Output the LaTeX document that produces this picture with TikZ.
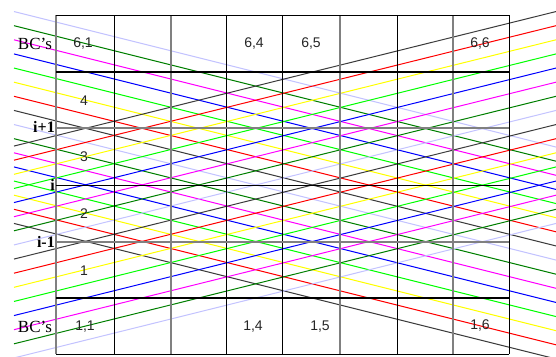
\documentclass[tikz,border=0pt]{standalone}
\usepackage{fontspec}
\setmainfont{Liberation Serif}
\newfontfamily\labsans{Liberation Sans}
\definecolor{lav}{RGB}{195,195,255}
\definecolor{dkg}{RGB}{0,128,0}
\definecolor{mag}{RGB}{255,0,255}
\definecolor{blu}{RGB}{0,0,255}
\definecolor{lim}{RGB}{0,255,0}
\definecolor{yel}{RGB}{255,255,0}
\definecolor{rd}{RGB}{255,0,0}
\definecolor{blk}{RGB}{60,60,60}
\definecolor{gridgray}{RGB}{128,128,128}
\tikzset{
  diag/.style={line width=1pt},
  thinblack/.style={draw=black, line width=1pt},
  thickblack/.style={draw=black, line width=2pt},
  graygrid/.style={draw=gridgray, line width=2pt},
  bclab/.style={font=\fontsize{17}{17}\selectfont, inner sep=0pt},
  idxlab/.style={font=\fontsize{16}{16}\selectfont\bfseries, inner sep=0pt, anchor=east},
  cell/.style={font=\labsans\fontsize{14}{14}\selectfont, text=black!85, inner sep=0pt}
}
\begin{document}
\begin{tikzpicture}[x=1pt,y=-1pt]
\useasboundingbox (0,0) rectangle (556,356);
\fill[white] (0,0) rectangle (556,356);
\begin{scope}
\clip (0,0) rectangle (556,356);
% descending family
\foreach \k/\c in {0/lav,1/dkg,2/mag,3/blu,4/lim,5/yel,6/rd,7/blk,8/lav,9/dkg,10/mag,11/blu,12/lim,13/yel,14/rd,15/blk} {
  \draw[diag,\c] (14,{11.56+14.125*\k}) -- (560,{148.06+14.125*\k});
}
% ascending family
\foreach \k/\c in {0/blk,1/rd,2/yel,3/lim,4/blu,5/mag,6/dkg,7/lav,8/blk,9/rd,10/yel,11/lim,12/blu,13/mag,14/dkg,15/lav} {
  \draw[diag,\c] (14,{146.06+14.125*\k}) -- (560,{10.56+14.125*\k});
}
\end{scope}
% grid verticals
\draw[graygrid] (56,15) -- (56,354);
\draw[thinblack] (114,15) -- (114,354);
\draw[graygrid] (171,15) -- (171,354);
\draw[thinblack] (226,15) -- (226,354);
\draw[thinblack] (282,15) -- (282,354);
\draw[graygrid] (340,15) -- (340,354);
\draw[thinblack] (397,15) -- (397,354);
\draw[graygrid] (453,15) -- (453,354);
\draw[thinblack] (509,15) -- (509,354);
% grid horizontals
\draw[thinblack] (56,15) -- (509,15);
\draw[thickblack] (56,72) -- (509,72);
\draw[graygrid] (56,128) -- (509,128);
\draw[thinblack] (56,185) -- (509,185);
\draw[graygrid] (56,242) -- (509,242);
\draw[thickblack] (56,298) -- (509,298);
\draw[thinblack] (56,354) -- (509,354);
% labels
\node[bclab] (bctop) at (35,44) {BC\char"0027 s};
\node[bclab] (bcbot) at (35,327) {BC\char"0027 s};
\node[idxlab] (ip1) at (55,127) {i+1};
\node[idxlab] (ii) at (55,185) {i};
\node[idxlab] (im1) at (55,242) {i-1};
\node[cell] (c61) at (83,44) {6,1};
\node[cell] (c64) at (254,44) {6,4};
\node[cell] (c65) at (311,44) {6,5};
\node[cell] (c66) at (480,44) {6,6};
\node[cell] (c11) at (85,327) {1,1};
\node[cell] (c14) at (253,327) {1,4};
\node[cell] (c15) at (320,327) {1,5};
\node[cell] (c16) at (480,326) {1,6};
\node[cell] (r4) at (84,101) {4};
\node[cell] (r3) at (84,157) {3};
\node[cell] (r2) at (84,214) {2};
\node[cell] (r1) at (84,271) {1};
\end{tikzpicture}
\end{document}
